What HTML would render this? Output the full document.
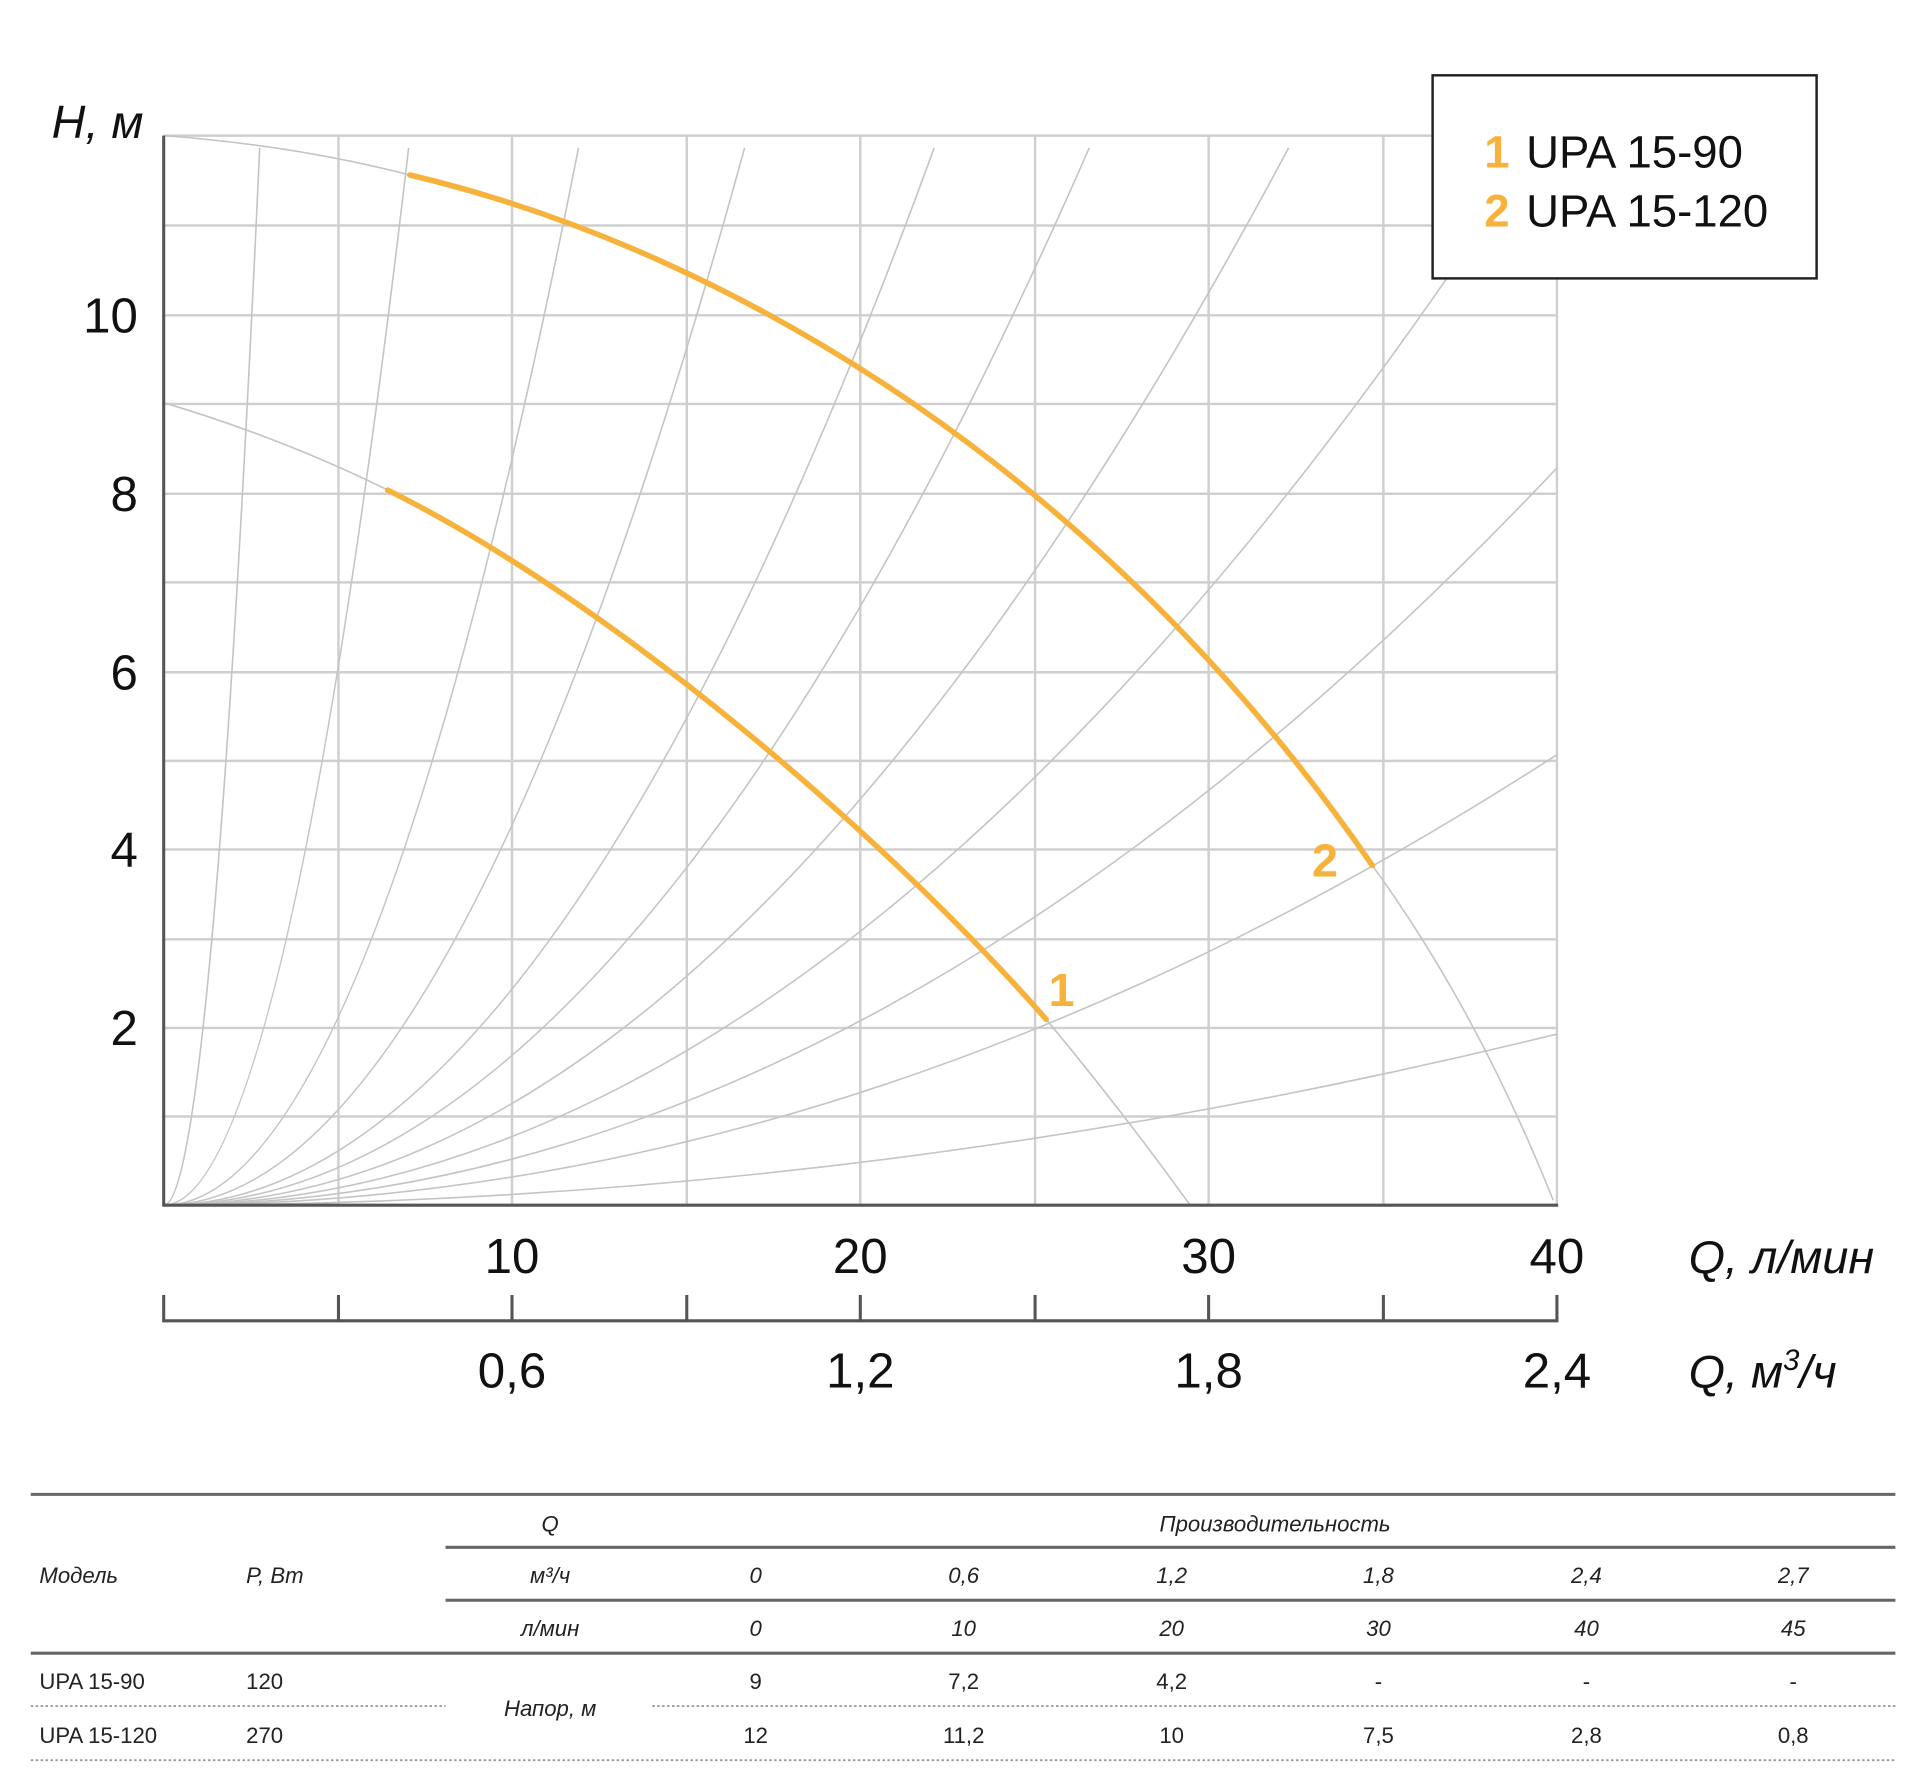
<!DOCTYPE html>
<html><head><meta charset="utf-8"><style>
html,body{margin:0;padding:0;background:#fff;}
svg{display:block;}
text{font-family:"Liberation Sans","DejaVu Sans",sans-serif;}
</style></head><body>
<svg width="1920" height="1774" viewBox="0 0 1560 1441" xmlns="http://www.w3.org/2000/svg">
<rect width="1560" height="1441" fill="#fff"/>
<g stroke="#cfcfcf" stroke-width="2" fill="none">
<line x1="133" y1="110" x2="1265" y2="110"/>
<line x1="133" y1="183" x2="1265" y2="183"/>
<line x1="133" y1="256" x2="1265" y2="256"/>
<line x1="133" y1="328" x2="1265" y2="328"/>
<line x1="133" y1="401" x2="1265" y2="401"/>
<line x1="133" y1="473" x2="1265" y2="473"/>
<line x1="133" y1="546" x2="1265" y2="546"/>
<line x1="133" y1="618" x2="1265" y2="618"/>
<line x1="133" y1="690" x2="1265" y2="690"/>
<line x1="133" y1="763" x2="1265" y2="763"/>
<line x1="133" y1="835" x2="1265" y2="835"/>
<line x1="133" y1="907" x2="1265" y2="907"/>
<line x1="275" y1="110" x2="275" y2="979"/>
<line x1="416" y1="110" x2="416" y2="979"/>
<line x1="558" y1="110" x2="558" y2="979"/>
<line x1="699" y1="110" x2="699" y2="979"/>
<line x1="841" y1="110" x2="841" y2="979"/>
<line x1="982" y1="110" x2="982" y2="979"/>
<line x1="1124" y1="110" x2="1124" y2="979"/>
<line x1="1265" y1="110" x2="1265" y2="979"/>
</g>
<g stroke="#c4c4c4" stroke-width="1.3" fill="none">
<path d="M133 979 Q172 979 211 120"/>
<path d="M133 979 Q232 979 332 120"/>
<path d="M133 979 Q301 979 470 120"/>
<path d="M133 979 Q369 979 605 120"/>
<path d="M133 979 Q446 979 759 120"/>
<path d="M133 979 Q509 979 885 120"/>
<path d="M133 979 Q589 979 1047 120"/>
<path d="M133 979 Q660 979 1190 205"/>
<path d="M133 979 Q699 979 1265 380"/>
<path d="M133 979 Q699 979 1265 613"/>
<path d="M133 979 Q699 979 1265 840"/>
<path d="M133 110 Q240 118 333 142"/>
<path d="M1115 703 Q1200 820 1262 975"/>
<path d="M133 327 Q230 356 315 398"/>
<path d="M850 828 Q910 900 967 979"/>
</g>
<g stroke="#555" stroke-width="2.5" fill="none">
<line x1="133" y1="110" x2="133" y2="980"/>
<line x1="132" y1="979" x2="1266" y2="979"/>
<polyline points="133,1052 133,1073 1265,1073 1265,1052"/>
<line x1="275" y1="1052" x2="275" y2="1073"/>
<line x1="416" y1="1052" x2="416" y2="1073"/>
<line x1="558" y1="1052" x2="558" y2="1073"/>
<line x1="699" y1="1052" x2="699" y2="1073"/>
<line x1="841" y1="1052" x2="841" y2="1073"/>
<line x1="982" y1="1052" x2="982" y2="1073"/>
<line x1="1124" y1="1052" x2="1124" y2="1073"/>
</g>
<g stroke="#f6b23a" stroke-width="4.5" fill="none" stroke-linecap="round">
<path d="M333 142 C600 205 900 390 1115 703"/>
<path d="M315 398 C500 490 720 680 850 828"/>
</g>
<g fill="#f6b23a" font-size="38" font-weight="bold">
<text x="852" y="817">1</text>
<text x="1066" y="712">2</text>
</g>
<rect x="1164" y="61" width="312" height="165" fill="#fff" stroke="#222" stroke-width="2"/>
<g font-size="37">
<text x="1206" y="136" fill="#f6b23a" font-weight="bold">1</text>
<text x="1240" y="136" fill="#111">UPA 15-90</text>
<text x="1206" y="184" fill="#f6b23a" font-weight="bold">2</text>
<text x="1240" y="184" fill="#111">UPA 15-120</text>
</g>
<g font-size="40" fill="#111" text-anchor="end">
<text x="112" y="270">10</text>
<text x="112" y="415">8</text>
<text x="112" y="560">6</text>
<text x="112" y="704">4</text>
<text x="112" y="849">2</text>
</g>
<text x="42" y="112" font-size="38" font-style="italic" fill="#111">H, м</text>
<g font-size="40" fill="#111" text-anchor="middle">
<text x="416" y="1034">10</text>
<text x="699" y="1034">20</text>
<text x="982" y="1034">30</text>
<text x="1265" y="1034">40</text>
<text x="416" y="1127">0,6</text>
<text x="699" y="1127">1,2</text>
<text x="982" y="1127">1,8</text>
<text x="1265" y="1127">2,4</text>
</g>
<text x="1372" y="1034" font-size="38" font-style="italic" fill="#111">Q, л/мин</text>
<text x="1372" y="1127" font-size="38" font-style="italic" fill="#111">Q, м<tspan dy="-14" font-size="24">3</tspan><tspan dy="14">/ч</tspan></text>
<g stroke="#666" stroke-width="2.5">
<line x1="25" y1="1214" x2="1540" y2="1214"/>
<line x1="362" y1="1257" x2="1540" y2="1257"/>
<line x1="362" y1="1300" x2="1540" y2="1300"/>
<line x1="25" y1="1343" x2="1540" y2="1343"/>
</g>
<g stroke="#999" stroke-width="1.5" stroke-dasharray="2,2">
<line x1="25" y1="1386" x2="362" y2="1386"/>
<line x1="530" y1="1386" x2="1540" y2="1386"/>
<line x1="25" y1="1430" x2="1540" y2="1430"/>
</g>
<g font-size="18" fill="#222" font-style="italic">
<text x="447" y="1244" text-anchor="middle">Q</text>
<text x="1036" y="1244" text-anchor="middle">Производительность</text>
<text x="32" y="1286">Модель</text>
<text x="200" y="1286">P, Вт</text>
<text x="447" y="1286" text-anchor="middle">м³/ч</text>
<text x="447" y="1329" text-anchor="middle">л/мин</text>
<text x="447" y="1394" text-anchor="middle">Напор, м</text>
</g>
<g font-size="18" fill="#222" font-style="italic" text-anchor="middle">
<text x="614" y="1286">0</text><text x="783" y="1286">0,6</text><text x="952" y="1286">1,2</text><text x="1120" y="1286">1,8</text><text x="1289" y="1286">2,4</text><text x="1457" y="1286">2,7</text>
<text x="614" y="1329">0</text><text x="783" y="1329">10</text><text x="952" y="1329">20</text><text x="1120" y="1329">30</text><text x="1289" y="1329">40</text><text x="1457" y="1329">45</text>
</g>
<g font-size="18" fill="#222">
<text x="32" y="1372">UPA 15-90</text><text x="200" y="1372">120</text>
<text x="32" y="1416">UPA 15-120</text><text x="200" y="1416">270</text>
</g>
<g font-size="18" fill="#222" text-anchor="middle">
<text x="614" y="1372">9</text><text x="783" y="1372">7,2</text><text x="952" y="1372">4,2</text><text x="1120" y="1372">-</text><text x="1289" y="1372">-</text><text x="1457" y="1372">-</text>
<text x="614" y="1416">12</text><text x="783" y="1416">11,2</text><text x="952" y="1416">10</text><text x="1120" y="1416">7,5</text><text x="1289" y="1416">2,8</text><text x="1457" y="1416">0,8</text>
</g>
</svg>
</body></html>
